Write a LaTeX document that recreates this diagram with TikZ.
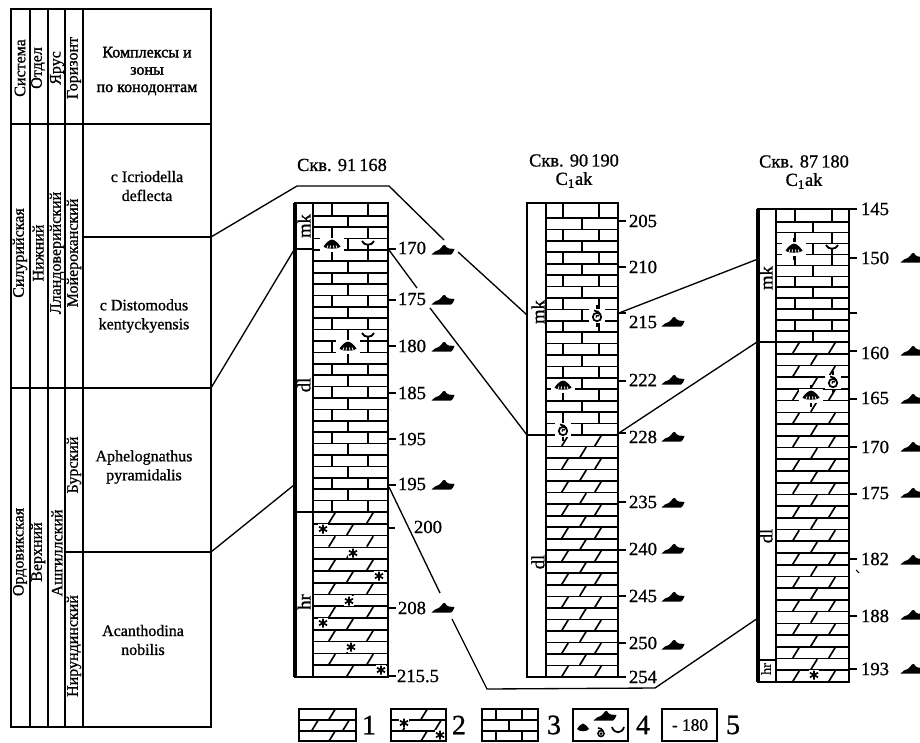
\documentclass[tikz,border=0pt]{standalone}
\usepackage{fontspec}
\setmainfont{Liberation Serif}
\newfontfamily\thk{Liberation Serif}[FakeBold=0.9]
\newfontfamily\thkk{Liberation Serif}[FakeBold=1.8]
\tikzset{
  x=0.75pt,y=-0.75pt,
  tabthick/.style={line width=2.1pt},
  tabthin/.style={line width=1.4pt},
  frame/.style={line width=1.6pt},
  frameb/.style={line width=1.9pt},
  framel/.style={line width=2.5pt},
  pat/.style={line width=1.25pt},
  conn/.style={line width=1pt},
  rot/.style={rotate=90,inner sep=0pt,font=\fontsize{12}{12}\selectfont\thk},
  zone/.style={inner sep=0pt,align=center,font=\fontsize{12}{14.2}\selectfont\thk},
  zonehead/.style={inner sep=0pt,align=center,font=\fontsize{12}{13}\selectfont\thkk},
  lab/.style={inner sep=0pt,font=\fontsize{14}{14}\selectfont\thk},
  ttl/.style={inner sep=0pt,align=center,font=\fontsize{13.8}{13.8}\selectfont\thk},
  leg/.style={inner sep=0pt,font=\fontsize{21}{21}\selectfont\thk},
  layerlab/.style={rotate=90,inner sep=0pt,font=\fontsize{14}{14}\selectfont\thk},
  tick/.style={line width=1.2pt},
}
\tikzset{
  oilmark/.pic={\fill (-11.5,4.5) -- (-8,1.5) .. controls (-5,0.5) and (-3,-0.5) .. (-2,-2) .. controls (-1,-4.5) and (1,-5.5) .. (2,-5) .. controls (3,-3) and (4,-2) .. (6,-1.5) -- (11.5,-1) -- (10,2.5) -- (8,4.5) -- cycle;},
  fan/.pic={\fill[white] (-12,-7) rectangle (12,7);
    \draw[pat] (0,-11) -- (0,-7) (0,7) -- (0,11);
    \fill (0,-5.5) .. controls (3,-5) and (6,-2) .. (8.5,1.5) .. controls (6,4.5) and (-6,4.5) .. (-8.5,1.5) .. controls (-6,-2) and (-3,-5) .. (0,-5.5) -- cycle;
    \draw[white,line width=0.6pt] (-5,3) -- (-4,0.5) (-2,3.7) -- (-1.5,0.5) (2,3.7) -- (1.5,0.5) (5,3) -- (4,0.5);},
  cup/.pic={\fill[white] (-7,-5) rectangle (7,3);
    \draw[line width=1.4pt] (-6,-4) .. controls (-4,1) and (4,1) .. (6,-4);
    \draw[line width=1.4pt] (0,-1) -- (0,11);},
  snail/.pic={\fill[white] (-8,-7) rectangle (8,7);
    \draw[line width=1.3pt] (0,1) circle (4.2);
    \draw[line width=1.3pt] (3.6,-1) .. controls (3,-4) and (0,-5) .. (-3,-5.5);
    \draw[line width=1pt] (2,0) .. controls (1,-1.5) and (-1.5,-0.5) .. (-1,1.5);
    \draw[pat] (0,-11) -- (0,-7) (0,7) -- (0,11);},
  star/.pic={\fill[white] (-5,-5) rectangle (5,5);
    \draw[line width=1.3pt] (0,-4.5) -- (0,4.5) (-4,-2.3) -- (4,2.3) (-4,2.3) -- (4,-2.3);},
}
\newcommand{\brickcol}[9]{%
  \pgfmathsetmacro\dd{(#5-#4)/#6}%
  \draw[pat] (#7,#3) -- (#7,#4) (#8,#3) -- (#8,#4);%
  \draw[pat] (#1,#4) -- (#2,#4);%
  \foreach \i in {1,...,#6}{%
    \pgfmathsetmacro\ya{#4+(\i-1)*\dd}%
    \pgfmathsetmacro\yb{#4+\i*\dd}%
    \draw[pat] (#1,\yb) -- (#2,\yb);%
    \ifodd\i \draw[pat] (#9,\ya) -- (#9,\yb);%
    \else \draw[pat] (#7,\ya) -- (#7,\yb) (#8,\ya) -- (#8,\yb);\fi
  }}
\newcommand{\slantcol}[9]{%
  \pgfmathsetmacro\dd{(#4-#3)/#5}%
  \foreach \i in {1,...,#5}{%
    \pgfmathsetmacro\ya{#3+(\i-1)*\dd}%
    \pgfmathsetmacro\yb{#3+\i*\dd}%
    \pgfmathsetmacro\ym{(\ya+\yb)/2}%
    \draw[pat] (#1,\yb) -- (#2,\yb);%
    \ifodd\numexpr\i+#9\relax
      \draw[pat] (#8,\ym) ++(-3.2,5.2) -- ++(6.4,-10.4);%
    \else
      \draw[pat] (#6,\ym) ++(-3.2,5.2) -- ++(6.4,-10.4);%
      \draw[pat] (#7,\ym) ++(-3.2,5.2) -- ++(6.4,-10.4);%
    \fi
  }}
\begin{document}
\begin{tikzpicture}
\fill[white] (0,0) rectangle (920,742);
\useasboundingbox (0,0) rectangle (920,742);
\clip (0,0) rectangle (920,742);
% ---- table
\draw[tabthin] (11,124) -- (211,124) (11,388) -- (211,388) (83,237) -- (211,237) (65,552) -- (211,552);
\draw[tabthin] (30,9) -- (30,727) (48,9) -- (48,727) (65,9) -- (65,727) (83,9) -- (83,727);
\draw[tabthick] (11,9) rectangle (211,727);
\node[rot] (h1) at (20,68) {Система};
\node[rot] (h2) at (38,68) {Отдел};
\node[rot] (h3) at (57,68) {Ярус};
\node[rot] (h4) at (74,68) {Горизонт};
\node[zonehead] (h5) at (147,71) {Комплексы и\\зоны\\по конодонтам};
\node[rot] (s1) at (20,253) {Силурийская};
\node[rot] (s2) at (38,253) {Нижний};
\node[rot] (s3) at (57,253) {Лландоверийский};
\node[rot] (s4) at (74,253) {Мойероканский};
\node[rot] (o1) at (20,552) {Ордовикская};
\node[rot] (o2) at (38,552) {Верхний};
\node[rot] (o3) at (57,553) {Ашгиллский};
\node[rot] (o4) at (74,465) {Бурский};
\node[rot] (o5) at (74,646) {Нирундинский};
\node[zone] (z1) at (147,186) {с Icriodella\\deflecta};
\node[zone] (z2) at (144,316) {с Distomodus\\kentyckyensis};
\node[zone] (z3) at (144,467) {Aphelognathus\\pyramidalis};
\node[zone] (z4) at (143,640) {Acanthodina\\nobilis};
% ---- patterns
\brickcol{313}{388}{203}{215.7}{512}{26}{332}{368}{348}
\slantcol{313}{388}{512}{677}{14}{332}{370}{350}{1}
\brickcol{546}{618}{203}{218}{435}{19}{563}{599}{582}
\slantcol{546}{618}{435}{677}{21}{565}{598}{583}{1}
\brickcol{776}{849}{209}{221.7}{342}{11}{795}{832}{813}
\slantcol{776}{849}{342}{682}{29}{796}{832}{814}{1}
% ---- column frames
\draw[frameb] (295,203) rectangle (388,677);
\draw[framel] (295,203) -- (295,677);
\draw[frame] (313,203) -- (313,677);
\draw[tabthin] (295,249) -- (313,249) (295,512) -- (313,512);
\draw[frameb] (527,203) rectangle (618,677);
\draw[frame] (546,203) -- (546,677);
\draw[tabthin] (527,435) -- (546,435);
\draw[frameb] (758,209) rectangle (849,682);
\draw[framel] (758,209) -- (758,682);
\draw[frame] (776,209) -- (776,682);
\draw[tabthin] (758,342) -- (776,342);
\draw[tabthin] (760,660) -- (776,660);
% ---- layer labels
\node[layerlab] (k1) at (304,226) {mk};
\node[layerlab] (k2) at (304,385) {dl};
\node[layerlab] (k3) at (304,602) {hr};
\node[layerlab] (k4) at (538,312) {mk};
\node[layerlab] (k5) at (538,562) {dl};
\node[layerlab] (k6) at (766,278) {mk};
\node[layerlab] (k7) at (766,536) {dl};
\node[layerlab,font=\fontsize{10.5}{10.5}\selectfont\thk] (k8) at (766,669) {hr};
% ---- fossils
\pic at (332,245) {fan};
\pic at (368,245) {cup};
\pic at (348,347) {fan};
\pic at (368,337) {cup};
\pic at (597,316) {snail};
\pic at (563,386) {fan};
\pic at (563,430) {snail};
\pic at (794,249) {fan};
\pic at (832,249) {cup};
\pic at (833,382) {snail};
\pic at (811,396) {fan};
\pic at (323,529) {star};
\pic at (353,553) {star};
\pic at (379,576) {star};
\pic at (349,601) {star};
\pic at (323,623) {star};
\pic at (351,647) {star};
\pic at (381,670) {star};
\pic at (814,675) {star};
% ---- titles
\node[ttl] (t1) at (342,165) {Скв. 91\,168};
\node[ttl] (t2) at (574,171) {Скв. 90\,190\\C\textsubscript{1}ak};
\node[ttl] (t3) at (804,172) {Скв. 87\,180\\C\textsubscript{1}ak};
% ---- depth labels
\foreach \y/\ly/\t in {249/248/170,300/299/175,346/346/180,393/393/185,439/439/195,485/484/195,608/608/208}
  {\draw[tick] (388,\y) -- (396,\y);
   \node[lab] (a\y) at (412,\ly) {\t};}
\draw[tick] (389,528) -- (395,528);
\node[lab] (a528) at (428,527) {200};
\draw[tick] (388,676) -- (396,676);
\node[lab] (a676) at (418,676) {215.5};
\foreach \y/\ly/\t in {221/221/205,267/267/210,313/322/215,381/380/222,433/437/228,502/502/235,550/549/240,596/596/245,643/643/250,677/677/254}
  {\draw[tick] (618,\y) -- (626,\y);
   \node[lab] (b\y) at (643,\ly) {\t};}
\foreach \y/\ly/\t in {209/209/145,258/258/150,351/353/160,399/398/165,447/447/170,494/493/175,559/559/182,616/616/188,669/669/193}
  {\draw[tick] (849,\y) -- (857,\y);
   \node[lab] (c\y) at (875,\ly) {\t};}
\draw[tick] (849,313) -- (857,313);
\draw[line width=0.8pt] (856,570) -- (859,573);
% ---- oil marks
\foreach \y in {250,300,347,396,485,608} \pic at (443,\y) {oilmark};
\foreach \y in {322,380,437,503,549,597,645} \pic at (673,\y) {oilmark};
\foreach \y in {258,351,399,447,493,560,615,669} \pic at (912,\y) {oilmark};
% ---- connectors
\coordinate (zA) at (211,237);
\coordinate (zB) at (211,388);
\coordinate (zC) at (211,552);
\coordinate (aTop1) at (297,186);
\coordinate (aTop2) at (389,186);
\coordinate (aGap1) at (444,240);
\coordinate (aGap2) at (458,252);
\coordinate (bMk) at (527,315);
\coordinate (bDl) at (527,435);
\coordinate (aMk) at (294,250);
\coordinate (aDl) at (294,485);
\coordinate (aR1) at (389,250);
\coordinate (cGap1) at (417,288);
\coordinate (cGap2) at (430,308);
\coordinate (aR2) at (389,487);
\coordinate (eGap1) at (440,593);
\coordinate (eGap2) at (452,619);
\coordinate (eB1) at (487,689);
\coordinate (eB2) at (655,688);
\coordinate (cBot) at (758,618);
\coordinate (bR1) at (619,313);
\coordinate (cMk) at (758,259);
\coordinate (bR2) at (619,433);
\coordinate (cDl) at (757,342);
\draw[conn] (zA) -- (aTop1) -- (aTop2) -- (aGap1);
\draw[conn] (aGap2) -- (bMk);
\draw[conn] (zB) -- (aMk);
\draw[conn] (zC) -- (aDl);
\draw[conn] (aR1) -- (cGap1);
\draw[conn] (cGap2) -- (bDl);
\draw[conn] (aR2) -- (eGap1);
\draw[conn] (eGap2) -- (eB1) -- (eB2) -- (cBot);
\draw[conn] (bR1) -- (cMk);
\draw[conn] (bR2) -- (cDl);
% ---- legend
\begin{scope}
\clip (299,709) rectangle (356,741);
\slantcol{299}{356}{709}{741.6}{3}{315}{346}{332}{0}
\end{scope}
\draw[frame] (299,709) rectangle (356,741);
\node[leg] (l1) at (369,725) {1};
\begin{scope}
\clip (391,709) rectangle (446,741);
\slantcol{391}{446}{709}{741.6}{3}{406}{438}{424}{0}
\end{scope}
\pic at (404,723) {star};
\pic at (440,735) {star};
\draw[frame] (391,709) rectangle (446,741);
\node[leg] (l2) at (459,725) {2};
\draw[pat] (482,720) -- (538,720) (482,731) -- (538,731);
\draw[pat] (496,709) -- (496,720) (522,709) -- (522,720) (509,720) -- (509,731) (496,731) -- (496,741) (522,731) -- (522,741);
\draw[frame] (482,709) rectangle (538,741);
\node[leg] (l3) at (554,725) {3};
\draw[frame] (573,709) rectangle (628,741);
\pic at (605,716) {oilmark};
\fill (583,723.5) .. controls (585,724) and (587,726) .. (589,729) .. controls (587,732) and (579,732) .. (577,729) .. controls (579,726) and (581,724) .. (583,723.5) -- cycle;
\draw[line width=1.2pt] (601,733.5) circle (3);
\fill (601,733.5) circle (1.5);
\draw[line width=1.2pt] (603,731) .. controls (602.5,729) and (600,728) .. (598,728);
\draw[line width=1.3pt] (612,727) .. controls (614,734) and (622,734) .. (624,727);
\node[leg] (l4) at (643,725) {4};
\draw[frame] (662,709) rectangle (717,741);
\node[lab,font=\fontsize{13}{13}\selectfont\thk] (l5t) at (690,725) {- 180};
\node[leg] (l5) at (733,725) {5};
\end{tikzpicture}
\end{document}
